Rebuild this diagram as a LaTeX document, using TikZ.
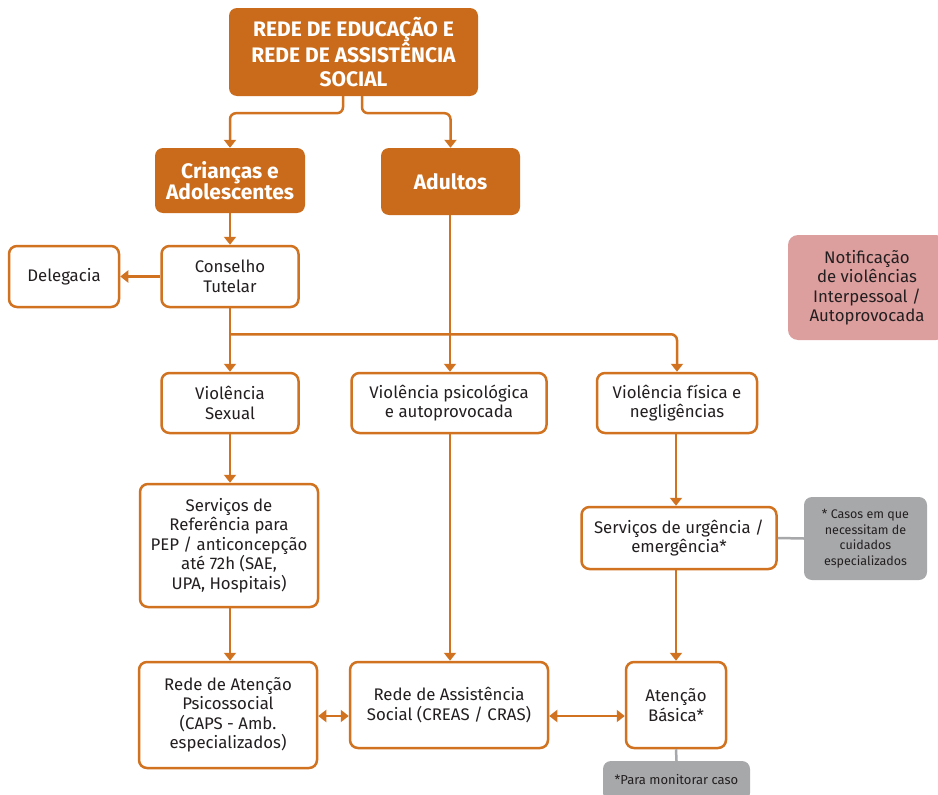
\documentclass[tikz,border=0pt]{standalone}
\usepackage{fontspec}
\setmainfont{Fira Sans}
\usetikzlibrary{arrows.meta}
\definecolor{orng}{RGB}{201,107,26}
\definecolor{orline}{RGB}{208,114,31}
\definecolor{pinkb}{RGB}{221,158,158}
\definecolor{grayb}{RGB}{167,168,170}
\definecolor{txt}{RGB}{35,31,32}
\begin{document}
\begin{tikzpicture}[x=1pt,y=-1pt,
 obox/.style={draw=orline, line width=2.5pt, rounded corners=8pt, fill=white, align=center, font=\fontsize{16.8}{19.5}\selectfont, text=txt, inner sep=0pt},
 hbox/.style={fill=orng, rounded corners=8pt, align=center, text=white, font=\fontsize{21}{21.5}\selectfont\bfseries, inner sep=0pt},
 tbox/.style={hbox, font=\fontsize{21}{23.5}\selectfont\bfseries},
 gbox/.style={fill=grayb, rounded corners=8pt, align=center, text=txt, font=\fontsize{12.5}{15.5}\selectfont, inner sep=0pt},
 pbox/.style={fill=pinkb, rounded corners=10pt, align=center, text=txt, font=\fontsize{16.8}{19.5}\selectfont, inner sep=0pt},
 arr/.style={draw=orline, line width=2.5pt, -{Triangle[length=8pt,width=12pt]}},
 darr/.style={draw=orline, line width=2.5pt, {Triangle[length=8pt,width=12pt]}-{Triangle[length=8pt,width=12pt]}},
 gline/.style={draw=grayb, line width=2.5pt}
]
\useasboundingbox (0,0) rectangle (938,795);

\node[tbox, minimum width=249pt, minimum height=88pt] (top) at (353.5,52) {REDE DE EDUCAÇÃO E\\REDE DE ASSISTÊNCIA\\SOCIAL};
\node[hbox, minimum width=150pt, minimum height=65pt] (cri) at (230,180.5) {Crianças e\\Adolescentes};
\node[hbox, minimum width=139pt, minimum height=67pt] (adu) at (450.5,181.5) {Adultos};

\node[obox, minimum width=110pt, minimum height=61pt] (del) at (64,276.5) {Delegacia};
\node[obox, minimum width=137pt, minimum height=61pt] (cons) at (230,276.5) {Conselho\\Tutelar};
\node[pbox, minimum width=158pt, minimum height=105pt] (notif) at (867,287.5) {Notificação\\de violências\\Interpessoal /\\Autoprovocada};

\node[obox, minimum width=137pt, minimum height=60pt] (vsex) at (230,403) {Violência\\Sexual};
\node[obox, minimum width=195pt, minimum height=60pt] (vpsi) at (449,403) {Violência psicológica\\e autoprovocada};
\node[obox, minimum width=160pt, minimum height=60pt] (vfis) at (677,403) {Violência física e\\negligências};

\node[obox, minimum width=178pt, minimum height=123pt] (sref) at (229,545.5) {Serviços de\\Referência para\\PEP / anticoncepção\\até 72h (SAE,\\UPA, Hospitais)};
\node[obox, minimum width=195pt, minimum height=62pt] (surg) at (679,538) {Serviços de urgência /\\emergência*};
\node[gbox, minimum width=123pt, minimum height=83pt] (casos) at (865.5,538.5) {* Casos em que\\necessitam de\\cuidados\\especializados};

\node[obox, minimum width=178pt, minimum height=106pt] (raps) at (228,715) {Rede de Atenção\\Psicossocial\\(CAPS - Amb.\\especializados)};
\node[obox, minimum width=198pt, minimum height=86pt] (ras) at (449,705) {Rede de Assistência\\Social (CREAS / CRAS)};
\node[obox, minimum width=100pt, minimum height=86pt] (ab) at (676,705) {Atenção\\Básica*};
\node[gbox, minimum width=147pt, minimum height=40pt, font=\fontsize{13}{15.5}\selectfont] (mon) at (676.5,781) {\raisebox{4pt}{*Para monitorar caso}};

\coordinate (mid) at (0,716);

% connectors
\draw[arr, rounded corners=6pt] (top.south) ++(-10.5,0) -- ++(0,17) -| (cri.north);
\draw[arr, rounded corners=6pt] (top.south) ++(8.5,0) -- ++(0,17) -| (adu.north);
\draw[arr] (cri.south) -- (cons.north);
\draw[arr] (cons.west) -- (del.east);
\draw[arr] (cons.south) -- (vsex.north);
\draw[arr, rounded corners=6pt] (cons.south) ++(0,26) -| (vfis.north);
\draw[arr] (adu.south -| 450,0) -- (vpsi.north -| 450,0);
\draw[arr] (vsex.south) -- (vsex.south |- sref.north);
\draw[arr] (vsex.south |- sref.south) -- (vsex.south |- raps.north);
\draw[arr] (vpsi.south -| 450,0) -- (ras.north -| 450,0);
\draw[arr] (vfis.south -| 676,0) -- (surg.north -| 676,0);
\draw[arr] (surg.south -| 676,0) -- (ab.north -| 676,0);
\draw[darr] (raps.east |- mid) -- (ras.west |- mid);
\draw[darr] (ras.east |- mid) -- (ab.west |- mid);
\draw[gline] (surg.east) -- (casos.west);
\draw[gline] (ab.south) -- (mon.north);
\end{tikzpicture}
\end{document}
